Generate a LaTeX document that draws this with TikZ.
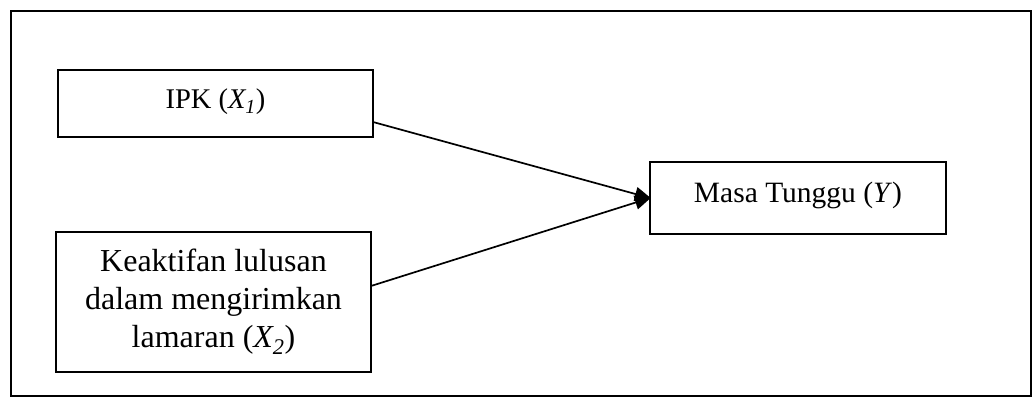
\documentclass[tikz,border=0pt]{standalone}
\usepackage{fontspec}
\setmainfont{Liberation Serif}
\usetikzlibrary{arrows.meta}
\begin{document}
\begin{tikzpicture}[x=1pt,y=1pt,
  box/.style={draw, line width=1.7pt, inner sep=0pt, outer sep=0pt, align=center},
  conn/.style={line width=1.7pt, -{Triangle[length=16pt,width=14pt]}, shorten >=-1pt}
]
\useasboundingbox (0,0) rectangle (1033,398);
\fill[white] (0,0) rectangle (1033,398);
\draw[line width=1.7pt] (11,387) rectangle (1031,2);
\node[box, minimum width=315pt, minimum height=67pt, text depth=9pt,
      font=\fontsize{28.5}{34}\selectfont] (ipk) at (215.5,294.5) {IPK (\textit{X\textsubscript{1}})};
\node[box, minimum width=315pt, minimum height=140pt,
      font=\fontsize{32}{38}\selectfont] (kea) at (213.5,96) {Keaktifan lulusan\\dalam mengirimkan\\lamaran (\textit{X\textsubscript{2}})};
\node[box, minimum width=296pt, minimum height=72pt, text depth=11pt,
      font=\fontsize{29.5}{34}\selectfont] (masa) at (798,200) {Masa Tunggu (\textit{Y})};
\draw[conn] ([yshift=-18.5pt]ipk.east) -- (masa.west);
\draw[conn] ([yshift=16pt]kea.east) -- (masa.west);
\end{tikzpicture}
\end{document}
